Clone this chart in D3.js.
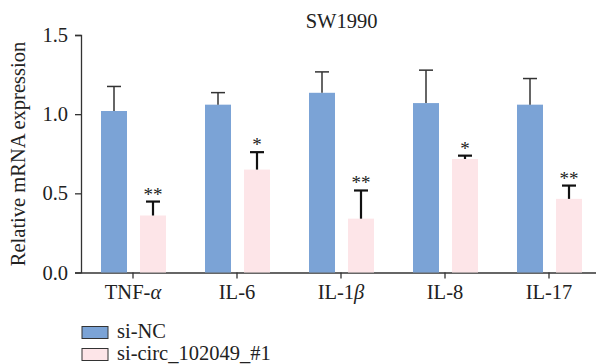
<!DOCTYPE html>
<html><head><meta charset="utf-8">
<script src="https://cdn.jsdelivr.net/npm/d3@7"></script>
<style>body{margin:0;background:#fff}svg{display:block}text{font-family:"Liberation Serif","Times New Roman",serif;fill:#222}</style>
</head><body><svg id="c" width="596" height="364"></svg>
<script>
const categories = ["TNF-α","IL-6","IL-1β","IL-8","IL-17"];
const seriesNames = ["si-NC","si-circ_102049_#1"];
const siNC = [1.02,1.06,1.135,1.07,1.06];
const siNCErr = [0.155,0.076,0.132,0.208,0.165];
const siCirc = [0.36,0.65,0.34,0.717,0.465];
const siCircErr = [0.088,0.11,0.178,0.021,0.084];
const stars = ["**","*","**","*","**"];
const yTicks = [0,0.5,1.0,1.5];
const colors = ["#7BA3D6","#FDE5E8"];
const FS = "20.5px";

const svg = d3.select("#c");
const x = d3.scaleBand().domain(categories).range([81,601]).padding(0);
const y = d3.scaleLinear().domain([0,1.5]).range([272.5,35]);

// y axis
const ya = svg.append("g").attr("transform","translate(81,0)")
  .call(d3.axisLeft(y).tickValues(yTicks).tickFormat(d3.format(".1f")).tickSize(6).tickPadding(7));
ya.select(".domain").attr("stroke","#333").attr("stroke-width",1.3);
ya.selectAll(".tick line").attr("stroke","#333").attr("stroke-width",1.3);
ya.selectAll(".tick text").style("font-size",FS).style("font-family","Liberation Serif").attr("fill","#222");

// x axis
const xa = svg.append("g").attr("transform","translate(0,272.5)")
  .call(d3.axisBottom(x).tickSize(6).tickPadding(6).tickSizeOuter(0));
xa.select(".domain").attr("stroke","#333").attr("stroke-width",1.3);
xa.selectAll(".tick line").attr("stroke","#333").attr("stroke-width",1.3);
xa.selectAll(".tick text").style("font-size",FS).style("font-family","Liberation Serif").attr("fill","#222")
  .attr("y",26).attr("dy",null)
  .each(function(d){
    const t = d3.select(this); t.text(null);
    const m = d.match(/^(.*-1?)(α|β)$/);
    if(m){ t.append("tspan").text(m[1]); t.append("tspan").style("font-style","italic").text(m[2]); }
    else t.text(d);
  });

const bw = 26;
const gAll = svg.append("g");
[siNC, siCirc].forEach((vals, si) => {
  const errs = si===0 ? siNCErr : siCircErr;
  const off = si===0 ? -32 : 7;
  const g = gAll.append("g");
  g.selectAll("rect").data(vals).join("rect")
    .attr("x",(d,i)=>x(categories[i])+x.bandwidth()/2+off)
    .attr("width",bw)
    .attr("y",d=>y(d)).attr("height",d=>y(0)-y(d))
    .attr("fill",colors[si]);
  const sw = si===0 ? 1.5 : 2.2;
  const col = si===0 ? "#333" : "#111";
  vals.forEach((v,i)=>{
    const cx = x(categories[i])+x.bandwidth()/2+off+bw/2;
    const top = y(v+errs[i]);
    g.append("line").attr("x1",cx).attr("x2",cx).attr("y1",y(v)).attr("y2",top).attr("stroke",col).attr("stroke-width",sw);
    g.append("line").attr("x1",cx-7).attr("x2",cx+7).attr("y1",top).attr("y2",top).attr("stroke",col).attr("stroke-width",sw);
    if(si===1){
      g.append("text").attr("x",cx).attr("y",top-1).attr("text-anchor","middle")
        .style("font-size","19px").attr("fill","#444").text(stars[i]);
    }
  });
});

// title
svg.append("text").attr("x",341.5).attr("y",28).attr("text-anchor","middle").style("font-size",FS).text("SW1990");
// y label
svg.append("text").attr("transform","translate(25,154) rotate(-90)").attr("text-anchor","middle")
  .style("font-size",FS).text("Relative mRNA expression");

// legend
const lg = svg.append("g");
seriesNames.forEach((n,i)=>{
  const yy = 326.5 + i*22;
  lg.append("rect").attr("x",82).attr("y",yy).attr("width",26).attr("height",12)
    .attr("fill",colors[i]).attr("stroke","#333").attr("stroke-width",1);
  lg.append("text").attr("x",117).attr("y",yy+11.5).style("font-size",FS).text(n);
});
</script></body></html>
